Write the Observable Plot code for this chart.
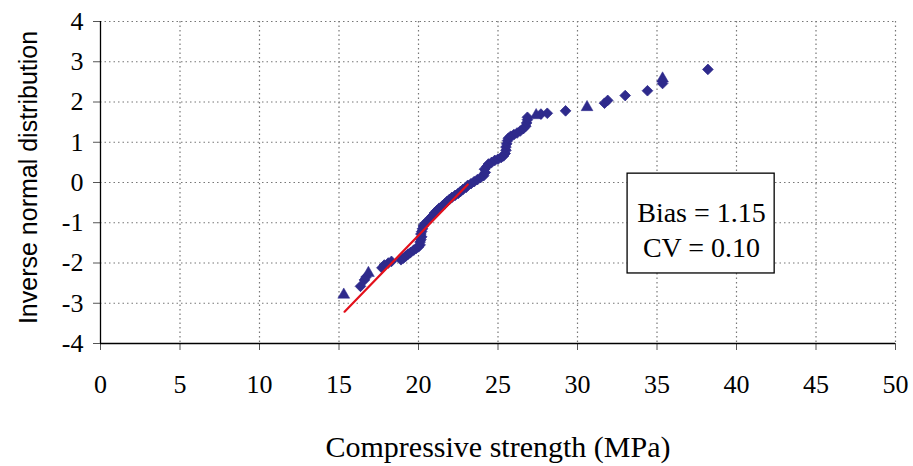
<!DOCTYPE html>
<html>
<head>
<meta charset="utf-8">
<script src="https://cdn.jsdelivr.net/npm/d3@7"></script>
<script src="https://cdn.jsdelivr.net/npm/@observablehq/plot@0.6"></script>
<style>
  html, body { margin: 0; padding: 0; background: #fff; }
</style>
</head>
<body>
<div id="chart"></div>
<script>
// Measured data (compressive strength MPa vs inverse normal value)
const strength = [15.3,16.35,16.6,16.7,16.85,17.7,17.85,18.1,18.3,18.9,19.05,19.2,19.35,19.5,19.7,19.85,20.0,20.1,20.1,20.15,20.2,20.15,20.2,20.25,20.3,20.4,20.6,20.75,20.9,21.0,21.15,21.3,21.5,21.65,21.8,21.95,22.1,22.3,22.5,22.65,22.8,23.0,23.1,23.3,23.5,23.7,23.9,24.1,24.2,24.15,24.3,24.4,24.6,24.8,25.0,25.2,25.35,25.45,25.5,25.5,25.55,25.6,25.65,25.8,26.0,26.2,26.4,26.6,26.75,26.8,26.85,26.85,27.4,27.7,28.1,29.25,30.6,31.7,31.9,33.0,34.4,35.35,35.35,38.2];
const invNormal = [-2.79,-2.58,-2.42,-2.35,-2.25,-2.12,-2.05,-2.0,-1.96,-1.92,-1.88,-1.83,-1.78,-1.74,-1.68,-1.64,-1.6,-1.55,-1.48,-1.42,-1.35,-1.28,-1.22,-1.15,-1.08,-1.02,-0.95,-0.88,-0.82,-0.76,-0.70,-0.64,-0.58,-0.53,-0.47,-0.42,-0.37,-0.32,-0.27,-0.22,-0.17,-0.12,-0.07,-0.03,0.02,0.07,0.12,0.17,0.25,0.33,0.40,0.46,0.50,0.55,0.58,0.62,0.66,0.72,0.80,0.88,0.96,1.04,1.10,1.15,1.19,1.23,1.28,1.34,1.40,1.48,1.56,1.62,1.67,1.70,1.72,1.78,1.87,1.97,2.04,2.16,2.28,2.46,2.58,2.81];
const markerShape = ["t","d","d","d","t","d","d","d","d","d","d","d","d","d","d","d","d","d","d","d","d","d","d","d","d","d","d","d","d","d","d","d","d","d","d","d","d","d","d","d","d","d","d","d","d","d","d","d","d","d","d","d","d","d","d","d","d","d","d","d","d","d","d","d","d","d","d","d","d","d","d","d","t","d","d","d","t","d","d","d","d","d","t","d"];

// Fitted line endpoints
const fitStrength = [15.35, 23.1];
const fitInvNormal = [-3.21, -0.05];

// Tick labels
const xTicks = [0,5,10,15,20,25,30,35,40,45,50];
const yTicks = [-4,-3,-2,-1,0,1,2,3,4];
const statsText = ["Bias = 1.15", "CV = 0.10"];
const xTitle = "Compressive strength (MPa)";
const yTitle = "Inverse normal distribution";

const points = strength.map((x, i) => ({x, y: invNormal[i], s: markerShape[i]}));
const fit = fitStrength.map((x, i) => ({x, y: fitInvNormal[i]}));

const navy = "#2e2a8c";
const serif = "Liberation Serif, Times New Roman, serif";

const chart = Plot.plot({
  width: 913,
  height: 466,
  marginLeft: 100,
  marginRight: 18,
  marginTop: 21,
  marginBottom: 123,
  style: {fontFamily: serif, background: "#fff", overflow: "visible"},
  x: {domain: [0, 50]},
  y: {domain: [-4, 4]},
  marks: [
    Plot.gridX(xTicks.filter(d => d > 0), {stroke: "#777", strokeOpacity: 1, strokeDasharray: "1.5,3", strokeWidth: 1.2}),
    Plot.gridY(yTicks.filter(d => d > -4), {stroke: "#777", strokeOpacity: 1, strokeDasharray: "1.5,3", strokeWidth: 1.2}),
    Plot.axisX(xTicks, {tickSize: 7, tickPadding: 24, fontSize: 26, fontFamily: serif, tickFormat: d => String(d), label: null, stroke: "#555"}),
    Plot.axisY(yTicks, {tickSize: 7, tickPadding: 10, fontSize: 26, fontFamily: serif, tickFormat: d => String(d), label: null, stroke: "#555"}),
    Plot.ruleX([0], {stroke: "#000", strokeWidth: 1.3}),
    Plot.ruleY([-4], {stroke: "#000", strokeWidth: 1.3}),
    Plot.dot(points.filter(d => d.s === "d"), {x: "x", y: "y", symbol: "diamond2", r: 4.8, fill: navy, stroke: navy, strokeWidth: 0.8}),
    Plot.dot(points.filter(d => d.s === "t"), {x: "x", y: "y", symbol: "triangle", r: 4.4, fill: navy, stroke: navy, strokeWidth: 0.5}),
    Plot.line(fit, {x: "x", y: "y", stroke: "#e3101b", strokeWidth: 2.2}),
    Plot.rect([statsText], {x1: 33.15, x2: 42.4, y1: -2.26, y2: 0.22, fill: "white", stroke: "#000", strokeWidth: 1.3}),
    Plot.text([statsText.join("\n")], {x: 37.8, y: -1.14, text: d => d, fontSize: 28, fontFamily: serif, lineHeight: 1.25, fill: "#000"}),
    Plot.text([xTitle], {frameAnchor: "bottom", dy: 104, lineAnchor: "middle", textAnchor: "middle", text: d => d, fontSize: 30, fontFamily: serif, fill: "#000"}),
    Plot.text([yTitle], {frameAnchor: "left", dx: -72, dy: -5, rotate: -90, textAnchor: "middle", lineAnchor: "middle", text: d => d, fontSize: 25, fontFamily: "Liberation Sans, Arial, sans-serif", fill: "#000"})
  ]
});
document.getElementById("chart").appendChild(chart);
</script>
</body>
</html>
